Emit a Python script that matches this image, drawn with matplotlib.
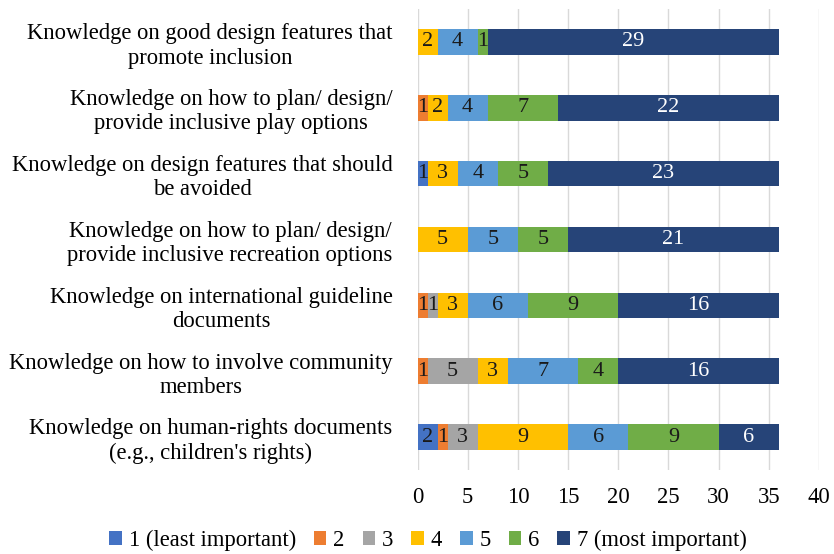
import matplotlib
matplotlib.use("Agg")
import matplotlib.pyplot as plt
import numpy as np

plt.rcParams['font.family'] = ['Liberation Serif', 'DejaVu Serif']

categories = [
    "Knowledge on good design features that\npromote inclusion",
    "Knowledge on how to plan/ design/\nprovide inclusive play options",
    "Knowledge on design features that should\nbe avoided",
    "Knowledge on how to plan/ design/\nprovide inclusive recreation options",
    "Knowledge on international guideline\ndocuments",
    "Knowledge on how to involve community\nmembers",
    "Knowledge on human-rights documents\n(e.g., children's rights)",
]

series_names = ["1 (least important)", "2", "3", "4", "5", "6", "7 (most important)"]

imp1 = [0, 0, 1, 0, 0, 0, 2]
imp2 = [0, 1, 0, 0, 1, 1, 1]
imp3 = [0, 0, 0, 0, 1, 5, 3]
imp4 = [2, 2, 3, 5, 3, 3, 9]
imp5 = [4, 4, 4, 5, 6, 7, 6]
imp6 = [1, 7, 5, 5, 9, 4, 9]
imp7 = [29, 22, 23, 21, 16, 16, 6]

colors = ["#4472C4", "#ED7D31", "#A5A5A5", "#FFC000", "#5B9BD5", "#70AD47", "#264478"]
text_colors = ["#1a1a1a"] * 6 + ["white"]

data = [imp1, imp2, imp3, imp4, imp5, imp6, imp7]

fig = plt.figure(figsize=(8.34, 5.54), dpi=100)
ax = fig.add_axes([0.5006, 0.1516, 0.4814, 0.8322])

y = np.arange(len(categories))
left = np.zeros(len(categories))
for vals, name, c, tc in zip(data, series_names, colors, text_colors):
    vals = np.array(vals, dtype=float)
    bars = ax.barh(y, vals, left=left, height=0.39, color=c, label=name, zorder=3)
    for b, v, l in zip(bars, vals, left):
        if v > 0:
            ax.text(l + v / 2, b.get_y() + b.get_height() / 2, f"{int(v)}",
                    ha='center', va='center', fontsize=16, color=tc, zorder=4)
    left += vals

ax.set_xlim(0, 40)
ax.set_ylim(len(categories) - 0.5, -0.5)
ax.set_xticks(np.arange(0, 41, 5))
ax.set_yticks(y)
ax.set_yticklabels(categories, fontsize=16.3, multialignment='center')
ax.tick_params(axis='both', length=0, labelsize=16.3)
ax.tick_params(axis='y', pad=18)
ax.tick_params(axis='x', pad=12)
ax.grid(axis='x', color='#D9D9D9', linewidth=1, zorder=0)
for s in ax.spines.values():
    s.set_visible(False)

handles, labels = ax.get_legend_handles_labels()
fig.legend(handles, labels, loc='center', bbox_to_anchor=(0.513, 0.025), ncol=7,
           frameon=False, fontsize=16.3, handlelength=0.55, handleheight=0.55,
           handletextpad=0.3, columnspacing=0.8)

fig.savefig("out.png", dpi=100)
